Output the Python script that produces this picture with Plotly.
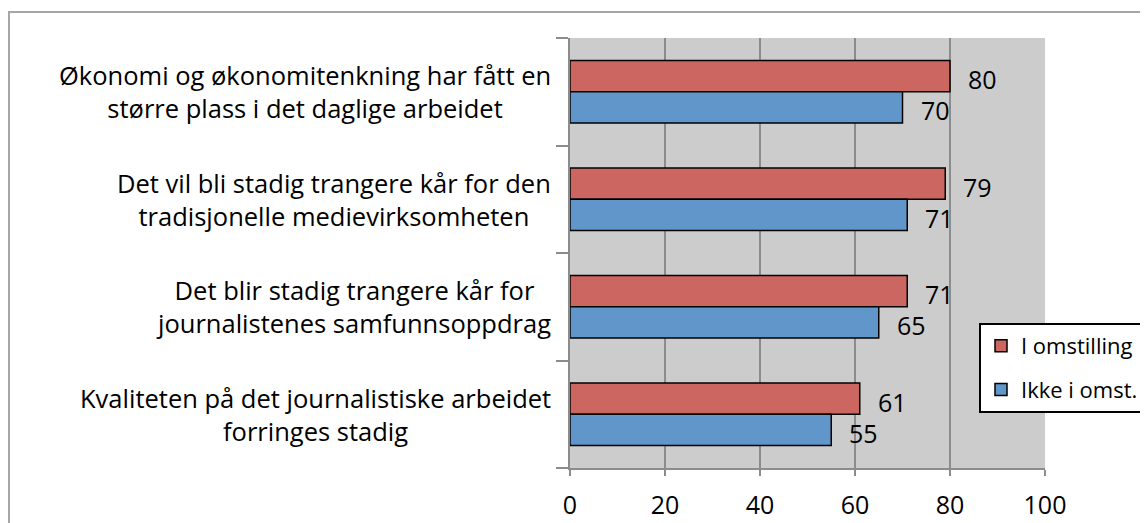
import plotly.graph_objects as go

categories = [
    "Økonomi og økonomitenkning har fått en<br>større plass i det daglige arbeidet",
    "Det vil bli stadig trangere kår for den<br>tradisjonelle medievirksomheten",
    "Det blir stadig trangere kår for<br>journalistenes samfunnsoppdrag",
    "Kvaliteten på det journalistiske arbeidet<br>forringes stadig",
]
series_names = ["I omstilling", "Ikke i omst."]
i_omstilling = [80, 79, 71, 61]
ikke_i_omst = [70, 71, 65, 55]
x_ticks = [0, 20, 40, 60, 80, 100]

colors = ["#CC6660", "#6096CA"]
FONT = "Open Sans"

idx = list(range(len(categories)))
fig = go.Figure()
for k, (name, vals, col) in enumerate(zip(series_names, [i_omstilling, ikke_i_omst], colors)):
    fig.add_trace(go.Bar(
        y=idx, x=vals, name=name, orientation="h", legendgroup="g%d" % k,
        marker=dict(color=col, line=dict(color="black", width=1.5)),
    ))

bargap = 0.42
half = (1 - bargap) / 4  # center offset of each bar within its group

annotations = []
for k, vals in enumerate([i_omstilling, ikke_i_omst]):
    off = -half if k == 0 else half
    for i, v in enumerate(vals):
        annotations.append(dict(
            x=v, y=i + off, xref="x", yref="y", text=str(v), showarrow=False,
            xanchor="left", yanchor="middle", xshift=16, yshift=-3,
            font=dict(family=FONT, size=25, color="black"),
        ))
for i, c in enumerate(categories):
    annotations.append(dict(
        x=0, y=i, xref="paper", yref="y", text=c, showarrow=False,
        xanchor="right", yanchor="middle", align="center", xshift=-17,
        font=dict(family=FONT, size=25.5, color="black"),
    ))

# page body has an 8px margin; figure coordinates are offset by it
O = 8
W, H = 1148 - O, 523 - O
L, T = 570 - O, 38 - O
R = W - (1045 - O)
B = H - (468 - O)
pw, ph = W - L - R, H - T - B

def px_x(p):
    return (p - O - L) / pw

def px_y(p):
    return (H - B - (p - O)) / ph

fig.update_layout(
    width=W, height=H,
    margin=dict(l=L, r=R, t=T, b=B, autoexpand=False),
    paper_bgcolor="white", plot_bgcolor="#CCCCCC",
    barmode="group", bargap=bargap, bargroupgap=0,
    showlegend=True,
    legend=dict(
        x=px_x(979), y=px_y(323), xanchor="left", yanchor="top",
        bgcolor="white", bordercolor="black", borderwidth=2,
        font=dict(family=FONT, size=22, color="black"),
        traceorder="grouped", tracegroupgap=12, itemwidth=30,
    ),
    xaxis=dict(
        range=[0, 100], tickvals=x_ticks, ticktext=[str(t) for t in x_ticks],
        showgrid=True, gridcolor="#8C8C8C", gridwidth=1.5,
        showline=True, linecolor="#8C8C8C", linewidth=1.5,
        ticks="outside", ticklen=6, tickcolor="#8C8C8C", tickwidth=1.5,
        ticklabelstandoff=8,
        tickfont=dict(family=FONT, size=25, color="black"),
        zeroline=False, fixedrange=True,
    ),
    yaxis=dict(
        range=[len(categories) - 0.5, -0.5],
        tickvals=[i + 0.5 for i in range(-1, len(categories))],
        ticktext=["" for _ in range(len(categories) + 1)],
        showgrid=False, showline=True, linecolor="#8C8C8C", linewidth=1.5,
        ticks="outside", ticklen=12, tickcolor="#8C8C8C", tickwidth=1.5,
        zeroline=False, fixedrange=True,
    ),
    annotations=annotations,
    shapes=[dict(
        type="rect", xref="paper", yref="paper",
        x0=px_x(9), x1=px_x(1170), y0=px_y(545), y1=px_y(12),
        line=dict(color="#A6A6A6", width=2), fillcolor="rgba(0,0,0,0)",
        layer="above",
    )],
)

fig.write_html("out.html")
